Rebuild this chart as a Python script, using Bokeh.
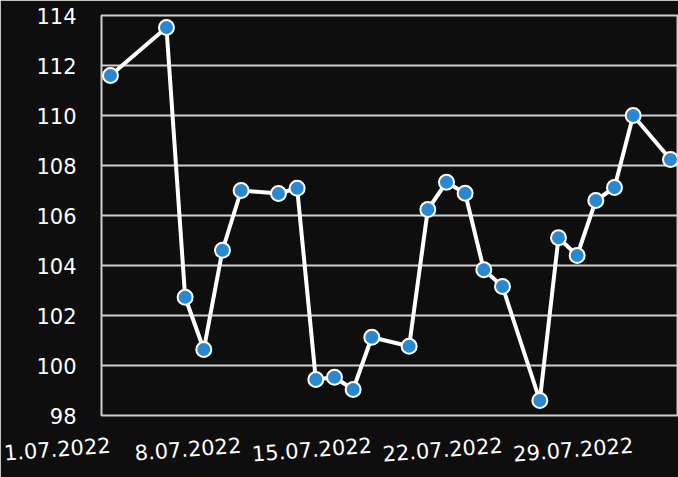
from bokeh.plotting import figure
from bokeh.models import ColumnDataSource, FixedTicker, Range1d
from bokeh.embed import file_html
from bokeh.resources import INLINE

days = [1, 4, 5, 6, 7, 8, 10, 11, 12, 13, 14, 15, 17, 18, 19, 20, 21, 22, 24, 25, 26, 27, 28, 29, 31]
values = [111.6, 113.52, 102.73, 100.64, 104.61, 107.0, 106.88, 107.09, 99.44, 99.53, 99.04, 101.13,
          100.77, 106.24, 107.33, 106.89, 103.83, 103.16, 98.6, 105.11, 104.4, 106.6, 107.12, 110.0, 108.24]
x_tick_days = [1, 8, 15, 22, 29]
x_tick_labels = ["1.07.2022", "8.07.2022", "15.07.2022", "22.07.2022", "29.07.2022"]
y_ticks = [98, 100, 102, 104, 106, 108, 110, 112, 114]

BG = "#0e0e0e"
FONT = "DejaVu Sans"

p = figure(width=678, height=477, output_backend="svg", toolbar_location=None,
           x_range=Range1d(0.52, 31.375), y_range=Range1d(98, 114),
           min_border_left=101, min_border_right=1, min_border_top=15, min_border_bottom=62)
p.background_fill_color = BG
p.border_fill_color = BG
p.outline_line_color = "#cfcfcf"
p.outline_line_width = 2

src = ColumnDataSource(dict(x=days, y=values))
p.line("x", "y", source=src, line_color="white", line_width=4)
p.scatter("x", "y", source=src, size=15, fill_color="#2a88d0", line_color="white", line_width=2)

p.xgrid.grid_line_color = None
p.ygrid.grid_line_color = "#cfcfcf"
p.ygrid.grid_line_width = 2

p.yaxis.ticker = FixedTicker(ticks=y_ticks)
p.xaxis.ticker = FixedTicker(ticks=x_tick_days)
p.xaxis.major_label_overrides = {d: l for d, l in zip(x_tick_days, x_tick_labels)}

for ax in (p.xaxis, p.yaxis):
    ax.axis_line_color = None
    ax.major_tick_line_color = None
    ax.minor_tick_line_color = None
    ax.major_tick_out = 0
    ax.major_tick_in = 0
    ax.major_label_text_color = "white"
    ax.major_label_text_font = FONT
    ax.major_label_text_font_size = "21px"

p.yaxis.major_label_standoff = 25
p.xaxis.major_label_standoff = 29
p.xaxis.major_label_orientation = 0.075

open("out.html", "w").write(file_html(p, INLINE))
